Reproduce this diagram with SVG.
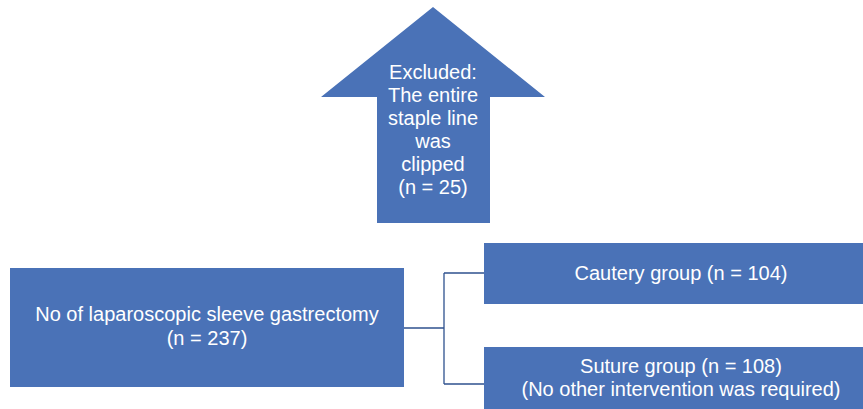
<svg xmlns="http://www.w3.org/2000/svg" width="863" height="409" viewBox="0 0 863 409">
<style>
.box{fill:#4a72b7;}
.t{font-family:"Liberation Sans",Arial,sans-serif;font-size:20px;fill:#ffffff;text-anchor:middle;}
.c{fill:none;stroke:#2f528f;stroke-width:1.3;}
</style>
<rect width="863" height="409" fill="#ffffff"/>
<g id="excluded">
<polygon class="box" points="433,7 545,97 490,97 490,223 377,223 377,97 321,97"/>
<text class="t" x="433" y="79">Excluded:</text>
<text class="t" x="433" y="102">The entire</text>
<text class="t" x="433" y="125">staple line</text>
<text class="t" x="433" y="148">was</text>
<text class="t" x="433" y="171">clipped</text>
<text class="t" x="433" y="194">(n = 25)</text>
</g>
<g id="connectors">
<path class="c" d="M404,328 H444 M444,273 V384 M444,273 H484 M444,384 H484"/>
</g>
<g id="total">
<rect class="box" x="10" y="268" width="394" height="119"/>
<text class="t" x="207" y="321">No of laparoscopic sleeve gastrectomy</text>
<text class="t" x="207" y="345">(n = 237)</text>
</g>
<g id="cautery">
<rect class="box" x="484" y="243" width="379" height="61"/>
<text class="t" x="681" y="280">Cautery group (n = 104)</text>
</g>
<g id="suture">
<rect class="box" x="484" y="347" width="379" height="62"/>
<text class="t" x="681" y="373">Suture group (n = 108)</text>
<text class="t" x="681" y="396">(No other intervention was required)</text>
</g>
</svg>
